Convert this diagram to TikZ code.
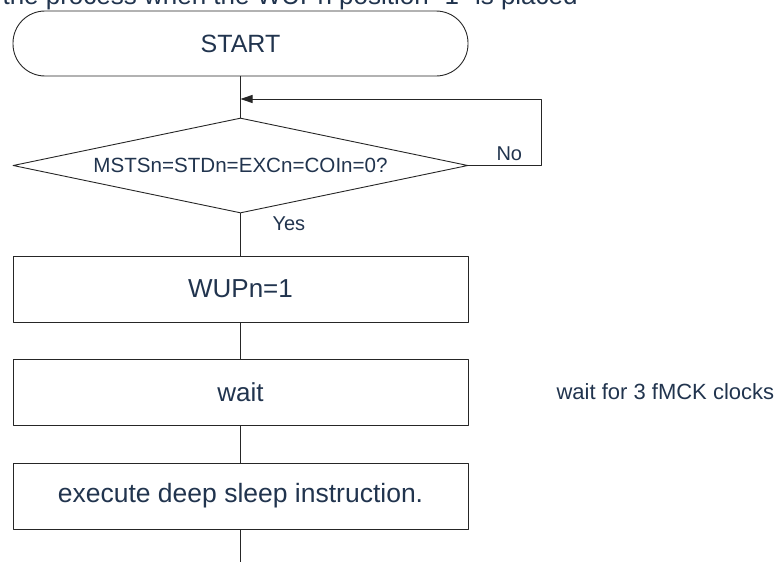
\documentclass[tikz,border=0pt]{standalone}
\usepackage{fontspec}
\setmainfont{Liberation Sans}
\usetikzlibrary{shapes.geometric,positioning,arrows.meta}

\definecolor{txtblue}{RGB}{33,52,78}

\begin{document}
\begin{tikzpicture}[x=1pt,y=-1pt,line join=round,
  every node/.style={text=txtblue,font=\fontsize{26}{30}\selectfont},
  flowline/.style={draw=black!85,line width=.9pt},
  termbox/.style={flowline,rounded corners=32pt,minimum width=455pt,minimum height=65pt},
  procbox/.style={flowline,minimum width=455pt,minimum height=66pt},
  decbox/.style={flowline,diamond,shape aspect=4.79,inner sep=0pt,
    minimum width=455pt,minimum height=95pt,font=\fontsize{20.6}{24}\selectfont},
  tag/.style={font=\fontsize{20}{24}\selectfont}]
  % page of the same size as the source image
  \useasboundingbox (0,0) rectangle (776,562);
  \clip (0,0) rectangle (776,562);
  \node[anchor=base west] (title) at (-1,5) {the process when the WUPn position "1" is placed};
  \node[termbox,font=\fontsize{25}{30}\selectfont] (start) at (240.5,43.5) {START};
  \coordinate (merge) at (240.5,99);
  \node[decbox] (cond) at (240.5,165.5) {MSTSn=STDn=EXCn=COIn=0?};
  \node[procbox] (wup) at (240.5,289) {WUPn=1};
  \node[procbox] (wait) at (240.5,392) {wait};
  \node[procbox,font=\fontsize{26.5}{30}\selectfont] (sleep) at (240.5,496) {execute deep sleep instruction.};
  \coordinate (out) at (240.5,562);
  \node[anchor=west,font=\fontsize{22}{26}\selectfont] (note) at (553,392) {wait for 3 fMCK clocks};
  \draw[flowline] (start) -- (cond);
  \draw[flowline,-{Triangle[length=12pt,width=8pt]}] (cond.east) -- (541,165.5) |- (merge);
  \draw[flowline] (cond) -- (wup);
  \draw[flowline] (wup) -- (wait);
  \draw[flowline] (wait) -- (sleep);
  \draw[flowline] (sleep) -- (out);
  \node[tag,anchor=base west] (no) at (493,160) {No};
  \node[tag,anchor=west] (yes) at (269,224) {Yes};
\end{tikzpicture}
\end{document}
